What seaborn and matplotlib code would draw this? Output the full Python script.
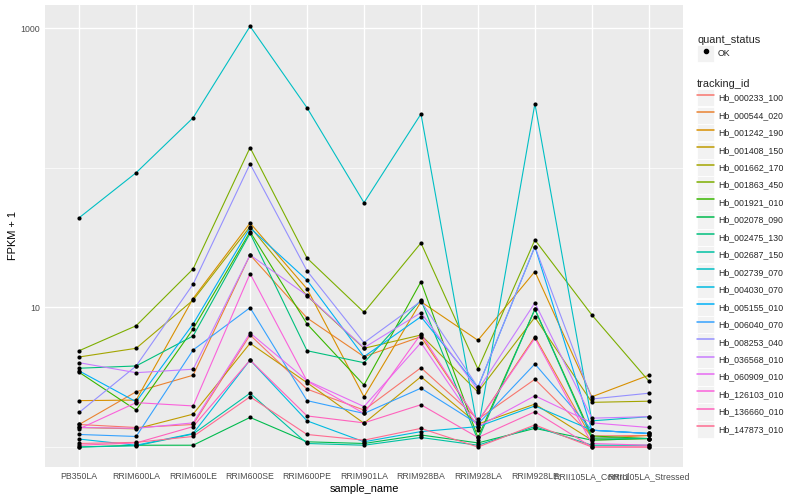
import matplotlib
matplotlib.use("Agg")
import matplotlib.pyplot as plt
import seaborn as sns
import pandas as pd
from matplotlib.legend_handler import HandlerLine2D
from matplotlib.lines import Line2D
from matplotlib.patches import Rectangle
from matplotlib.ticker import FixedLocator, FixedFormatter, NullFormatter

# ---------------- data ----------------
samples = ["PB350LA", "RRIM600LA", "RRIM600LE", "RRIM600SE", "RRIM600PE",
           "RRIM901LA", "RRIM928BA", "RRIM928LA", "RRIM928LE",
           "RRII105LA_Control", "RRII105LA_Stressed"]

tracking_ids = ["Hb_000233_100", "Hb_000544_020", "Hb_001242_190", "Hb_001408_150",
                "Hb_001662_170", "Hb_001863_450", "Hb_001921_010", "Hb_002078_090",
                "Hb_002475_130", "Hb_002687_150", "Hb_002739_070", "Hb_004030_070",
                "Hb_005155_010", "Hb_006040_070", "Hb_008253_040", "Hb_036568_010",
                "Hb_060909_010", "Hb_126103_010", "Hb_136660_010", "Hb_147873_010"]

# FPKM per sample (same order as samples)
fpkm_000233_100 = [0.45, 0.38, 0.45, 5.35, 1.60, 0.84, 2.70, 0.58, 2.06, 0.20, 0.21]
fpkm_000544_020 = [0.45, 1.49, 2.27, 22.8, 7.41, 3.44, 5.18, 0.52, 5.18, 0.15, 0.21]
fpkm_001242_190 = [1.15, 1.17, 10.6, 39.3, 12.6, 1.29, 10.0, 4.82, 17.1, 1.29, 2.27]
fpkm_001408_150 = [0.38, 0.35, 0.72, 4.54, 1.89, 0.48, 2.19, 0.46, 1.03, 0.12, 0.15]
fpkm_001662_170 = [3.42, 4.10, 10.3, 37.0, 11.1, 4.10, 5.35, 1.48, 7.51, 1.09, 1.13]
fpkm_001863_450 = [3.90, 6.40, 17.9, 139.0, 21.6, 8.24, 28.0, 2.62, 29.5, 7.84, 1.97]
fpkm_001921_010 = [2.43, 0.84, 6.01, 33.9, 6.62, 1.78, 14.3, 0.17, 8.71, 0.20, 0.15]
fpkm_002078_090 = [0.00, 0.03, 0.03, 0.63, 0.09, 0.06, 0.22, 0.07, 0.36, 0.12, 0.15]
fpkm_002475_130 = [2.67, 2.81, 5.25, 33.0, 3.90, 3.02, 10.3, 0.12, 8.71, 0.16, 0.15]
fpkm_002687_150 = [0.00, 0.02, 0.24, 1.43, 0.06, 0.03, 0.17, 0.03, 0.40, 0.03, 0.03]
fpkm_002739_070 = [43.0, 91.5, 228.0, 1036.0, 269.0, 55.4, 243.0, 0.32, 288.0, 0.54, 0.65]
fpkm_004030_070 = [0.14, 0.03, 0.25, 3.20, 0.54, 0.09, 0.29, 0.40, 0.97, 0.32, 0.25]
fpkm_005155_010 = [2.51, 1.11, 6.62, 36.2, 14.7, 3.44, 7.59, 1.68, 26.3, 0.32, 0.25]
fpkm_006040_070 = [0.23, 0.19, 3.96, 8.97, 1.15, 0.74, 1.64, 0.46, 2.94, 0.32, 0.25]
fpkm_008253_040 = [0.77, 2.81, 13.7, 106.0, 17.3, 4.59, 10.1, 1.68, 26.3, 1.21, 1.43]
fpkm_036568_010 = [3.02, 2.41, 2.61, 22.8, 11.2, 4.15, 8.18, 1.56, 9.80, 0.61, 0.65]
fpkm_060909_010 = [0.38, 0.36, 0.49, 5.57, 1.99, 0.95, 4.59, 0.40, 1.33, 0.49, 0.38]
fpkm_126103_010 = [0.35, 1.08, 0.97, 16.5, 1.97, 0.74, 5.46, 0.52, 5.02, 0.06, 0.03]
fpkm_136660_010 = [0.03, 0.07, 0.40, 3.20, 0.67, 0.49, 1.01, 0.17, 0.79, 0.00, 0.00]
fpkm_147873_010 = [0.06, 0.08, 0.19, 1.29, 0.23, 0.12, 0.36, 0.00, 0.44, 0.00, 0.00]

series = [fpkm_000233_100, fpkm_000544_020, fpkm_001242_190, fpkm_001408_150,
          fpkm_001662_170, fpkm_001863_450, fpkm_001921_010, fpkm_002078_090,
          fpkm_002475_130, fpkm_002687_150, fpkm_002739_070, fpkm_004030_070,
          fpkm_005155_010, fpkm_006040_070, fpkm_008253_040, fpkm_036568_010,
          fpkm_060909_010, fpkm_126103_010, fpkm_136660_010, fpkm_147873_010]

palette = ["#F8766D", "#EA8331", "#D89000", "#C09B00", "#A3A500", "#7CAE00",
           "#39B600", "#00BB4E", "#00BF7D", "#00C1A3", "#00BFC4", "#00BAE0",
           "#00B0F6", "#35A2FF", "#9590FF", "#C77CFF", "#E76BF3", "#FA62DB",
           "#FF62BC", "#FF6C91"]

rows = []
for tid, vals in zip(tracking_ids, series):
    for s, v in zip(samples, vals):
        rows.append({"tracking_id": tid, "sample_name": s, "fpkm1": v + 1,
                     "quant_status": "OK"})
df = pd.DataFrame(rows)
df["sample_name"] = pd.Categorical(df["sample_name"], categories=samples, ordered=True)
df["xpos"] = df["sample_name"].cat.codes

# ---------------- style ----------------
sns.set_theme(style="darkgrid")
plt.rcParams["font.family"] = ["Liberation Sans", "DejaVu Sans"]
plt.rcParams["axes.facecolor"] = "#EBEBEB"

fig = plt.figure(figsize=(8, 5), dpi=100)
ax = fig.add_axes([45 / 800, 1 - 467 / 500, (683 - 45) / 800, (467 - 5) / 500])

sns.lineplot(data=df, x="xpos", y="fpkm1", hue="tracking_id", hue_order=tracking_ids,
             palette=palette, estimator=None, sort=False, linewidth=0.8,
             legend=False, ax=ax)
sns.scatterplot(data=df, x="xpos", y="fpkm1", color="black", s=9, linewidth=0,
                legend=False, ax=ax, zorder=5)

ax.set_yscale("log")
ax.set_ylim(0.719, 1473)
ax.set_xlim(-0.6, len(samples) - 1 + 0.6)
ax.xaxis.set_major_locator(FixedLocator(list(range(len(samples)))))
ax.xaxis.set_major_formatter(FixedFormatter(samples))
ax.xaxis.set_minor_locator(FixedLocator([]))
ax.yaxis.set_major_locator(FixedLocator([10, 1000]))
ax.yaxis.set_major_formatter(FixedFormatter(["10", "1000"]))
ax.yaxis.set_minor_locator(FixedLocator([1, 100]))
ax.yaxis.set_minor_formatter(NullFormatter())

ax.grid(which="major", color="white", linewidth=1.0)
ax.grid(which="minor", axis="y", color="white", linewidth=0.5)
for sp in ax.spines.values():
    sp.set_visible(False)

ax.tick_params(which="major", length=2.0, width=0.7, color="#333333",
               labelcolor="#4D4D4D", labelsize=6.3, pad=1.6)
ax.tick_params(which="minor", length=0)
ax.set_xlabel("sample_name", fontsize=7.9, color="black", labelpad=2.5)
ax.set_ylabel("FPKM + 1", fontsize=7.9, color="black", labelpad=1.5)


# ---------------- legends ----------------
class BgHandler(HandlerLine2D):
    def create_artists(self, legend, orig_handle, xdescent, ydescent, width,
                       height, fontsize, trans):
        bg = Rectangle((-xdescent, -ydescent), width, height, facecolor="#F2F2F2",
                       edgecolor="white", linewidth=0.6, transform=trans)
        arts = super().create_artists(legend, orig_handle, xdescent, ydescent,
                                      width, height, fontsize, trans)
        return [bg] + list(arts)


common = dict(loc="upper left", frameon=False, fontsize=6.3, title_fontsize=7.9,
              handlelength=1.95, handleheight=2.66, handletextpad=0.45,
              borderpad=0, borderaxespad=0, labelspacing=0.02, alignment="left")

h_ok = [Line2D([], [], marker="o", color="black", linestyle="none", markersize=3.0)]
leg1 = fig.legend(h_ok, ["OK"], title="quant_status", bbox_to_anchor=(697 / 800, 1 - 35 / 500),
                  handler_map={Line2D: BgHandler(numpoints=1)}, **common)

h_ids = [Line2D([], [], color=c, linewidth=1.1) for c in palette]
leg2 = fig.legend(h_ids, tracking_ids, title="tracking_id", bbox_to_anchor=(697 / 800, 1 - 79 / 500),
                  handler_map={Line2D: BgHandler()}, **common)

fig.savefig("out.png", dpi=100)
